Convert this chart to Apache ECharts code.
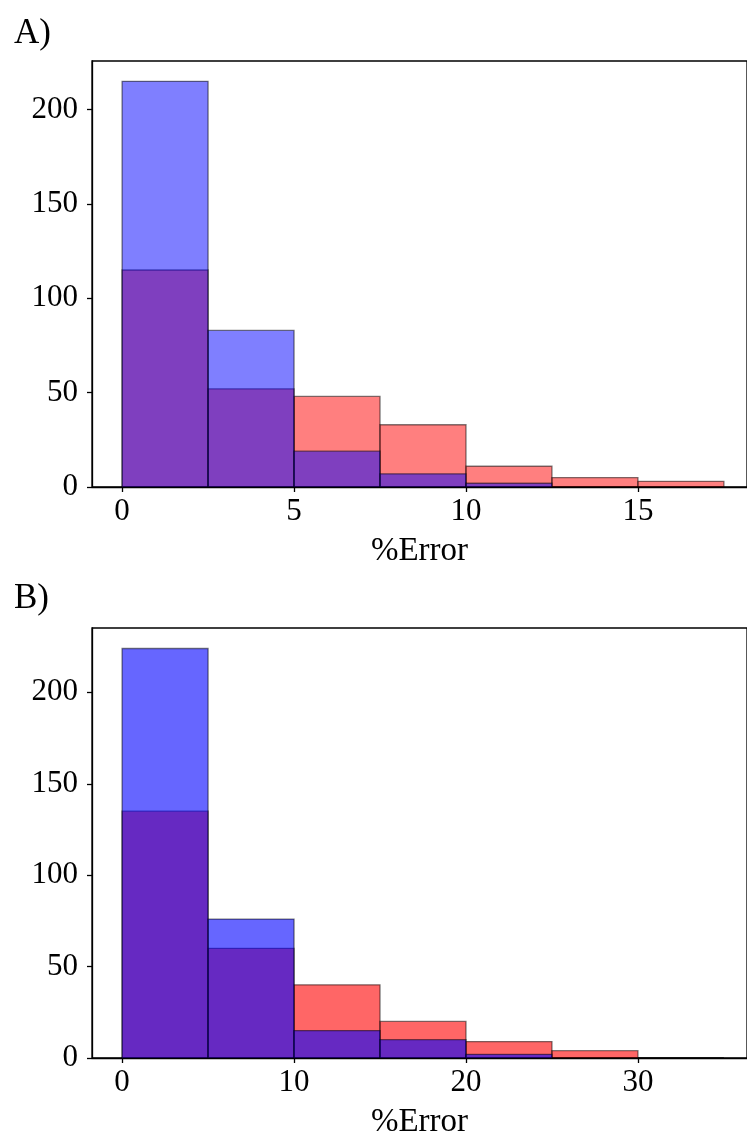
<!DOCTYPE html>
<html><head><meta charset="utf-8">
<script src="https://cdn.jsdelivr.net/npm/echarts@6/dist/echarts.min.js"></script>
<style>html,body{margin:0;padding:0;background:#fff}#c{width:747px;height:1142px}</style>
</head><body><div id="c"></div>
<script>
// Panel A
const edgesA = [0, 2.5, 5, 7.5, 10, 12.5, 15, 17.5];
const blueA = [215, 83, 19, 7, 2, 0, 0];
const redA = [115, 52, 48, 33, 11, 5, 3];
const xTicksA = [0, 5, 10, 15];
const yTicksA = [0, 50, 100, 150, 200];
// Panel B
const edgesB = [0, 5, 10, 15, 20, 25, 30, 35];
const blueB = [224, 76, 15, 10, 2, 0, 0];
const redB = [135, 60, 40, 20, 9, 4, 0];
const xTicksB = [0, 10, 20, 30];
const yTicksB = [0, 50, 100, 150, 200];
const panelLabels = ['A)', 'B)'];
const xName = '%Error';

const FONT = '"Liberation Serif", "DejaVu Serif", serif';
// full axes box is 662px wide but the picture is cut at the right edge (655px visible)
const FULL_W = 662, VIS_W = 655;

function binData(edges, counts) {
  return counts.map((c, i) => [edges[i], edges[i + 1], c]);
}
function hist(name, gi, edges, counts, fill, z) {
  return {
    type: 'custom', name, xAxisIndex: gi, yAxisIndex: gi, z,
    data: binData(edges, counts),
    encode: { x: [0, 1], y: 2 },
    renderItem: function (params, api) {
      const p0 = api.coord([api.value(0), api.value(2)]);
      const p1 = api.coord([api.value(1), 0]);
      return {
        type: 'rect',
        shape: { x: p0[0], y: p0[1], width: p1[0] - p0[0], height: p1[1] - p0[1] },
        style: { fill: fill, stroke: 'rgba(0,0,0,0.5)', lineWidth: 1.3 }
      };
    }
  };
}
function xAxis(gi, edges, ticks) {
  const lo = edges[0], hi = edges[edges.length - 1], m = (hi - lo) * 0.05;
  const min = lo - m, fullMax = hi + m;
  const max = min + (fullMax - min) * VIS_W / FULL_W;
  return {
    type: 'value', gridIndex: gi, min: min, max: max,
    name: xName, nameLocation: 'middle', nameGap: 48,
    nameTextStyle: { fontFamily: FONT, fontSize: 33, color: '#000' },
    axisLine: { show: true, onZero: false, lineStyle: { color: '#000', width: 1.3 } },
    axisTick: { show: true, length: 5, customValues: ticks, lineStyle: { color: '#000', width: 1.3 } },
    axisLabel: { customValues: ticks, fontFamily: FONT, fontSize: 31, color: '#000', margin: 9 },
    splitLine: { show: false }
  };
}
function yAxis(gi, max, ticks) {
  return {
    type: 'value', gridIndex: gi, min: 0, max: max * 1.05,
    axisLine: { show: true, onZero: false, lineStyle: { color: '#000', width: 1.3 } },
    axisTick: { show: true, length: 5, customValues: ticks, lineStyle: { color: '#000', width: 1.3 } },
    axisLabel: { customValues: ticks, fontFamily: FONT, fontSize: 31, color: '#000', margin: 14 },
    splitLine: { show: false }
  };
}
const maxA = Math.max(...blueA, ...redA);
const maxB = Math.max(...blueB, ...redB);

const chart = echarts.init(document.getElementById('c'), null, { renderer: 'canvas' });
chart.setOption({
  animation: false,
  backgroundColor: '#fff',
  title: [
    { text: panelLabels[0], left: 9, top: 11, textStyle: { fontFamily: FONT, fontSize: 35, fontWeight: 'normal', color: '#000' } },
    { text: panelLabels[1], left: 9, top: 576, textStyle: { fontFamily: FONT, fontSize: 35, fontWeight: 'normal', color: '#000' } }
  ],
  grid: [
    { left: 92, top: 61, width: VIS_W, height: 426, show: true, borderColor: '#000', borderWidth: 1.3, backgroundColor: 'transparent' },
    { left: 92, top: 628, width: VIS_W, height: 430, show: true, borderColor: '#000', borderWidth: 1.3, backgroundColor: 'transparent' }
  ],
  xAxis: [xAxis(0, edgesA, xTicksA), xAxis(1, edgesB, xTicksB)],
  yAxis: [yAxis(0, maxA, yTicksA), yAxis(1, maxB, yTicksB)],
  series: [
    hist('redA', 0, edgesA, redA, 'rgba(255,0,0,0.5)', 2),
    hist('blueA', 0, edgesA, blueA, 'rgba(0,0,255,0.5)', 3),
    hist('redB', 1, edgesB, redB, 'rgba(255,0,0,0.6)', 2),
    hist('blueB', 1, edgesB, blueB, 'rgba(0,0,255,0.6)', 3)
  ]
});
</script></body></html>
